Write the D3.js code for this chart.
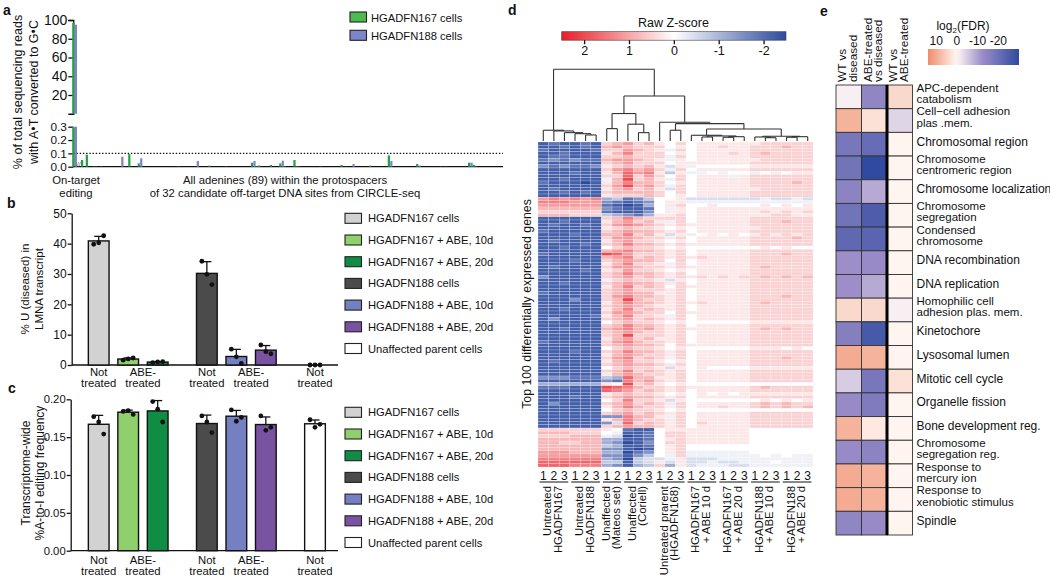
<!DOCTYPE html>
<html><head><meta charset="utf-8">
<script src="https://cdn.jsdelivr.net/npm/d3@7"></script>
<style>
body{margin:0;background:#fff;}
svg{display:block;font-family:"Liberation Sans",Arial,Helvetica,sans-serif;}
</style></head><body>
<svg id="chart" width="1050" height="580"></svg>
<script>
// ================= DATA =================
// ---- Panel a ----
const aSeries = ["HGADFN167 cells", "HGADFN188 cells"];
const aOnTarget = [97, 95];
const aGreen = [0.05,0.09,0,0.002,0.002,0,0,0,0,0, 0.095,0,0.025,0,0,0,0,0,0,0, 0.001,0,0,0,0,0,0,0.008,0,0, 0,0,0,0,0,0,0.03,0.004,0,0, 0.0125,0,0.025,0.003,0,0.05,0.002,0,0,0, 0,0,0,0,0,0.0125,0.002,0,0,0, 0,0.008,0,0,0,0.085,0,0,0,0, 0,0.02,0,0,0,0,0.002,0.002,0,0, 0,0,0.03,0.0125,0,0,0,0,0];
const aBlue  = [0,0,0.002,0,0,0,0,0,0.075,0, 0,0,0.0625,0,0,0,0,0,0,0, 0.002,0,0,0,0.043,0,0,0,0,0, 0.002,0,0,0,0,0,0.043,0.01,0,0, 0,0,0.045,0,0,0.003,0,0,0,0, 0.002,0,0,0,0,0,0,0.02,0,0, 0,0,0,0,0,0.043,0,0,0,0, 0,0.008,0,0,0,0,0,0,0,0, 0,0,0.03,0.003,0,0,0,0,0];
const aUpperTicks = [20, 40, 60, 80, 100];
const aLowerTicks = [0, 0.1, 0.2, 0.3];
const aThreshold = 0.1;

// ---- Panels b & c ----
const bcCategories = ["HGADFN167 cells","HGADFN167 + ABE, 10d","HGADFN167 + ABE, 20d","HGADFN188 cells","HGADFN188 + ABE, 10d","HGADFN188 + ABE, 20d","Unaffected parent cells"];
const bcGroupOf = [0,0,0,1,1,1,2];
const bcColors = ["#d2d2d2","#8fcf6c","#0f8d45","#4b4b4b","#7480c2","#7a52a2","#ffffff"];
const bReplicates = [[39.8,40.3,42.6],[1.6,2.0,2.3],[0.8,1.0,1.1],[34.2,29.9,26.5],[5.2,2.7,0.5],[6.6,4.4,3.7],[0,0,0]];
const cReplicates = [[0.177,0.170,0.154],[0.184,0.185,0.180],[0.197,0.187,0.170],[0.178,0.170,0.156],[0.186,0.171,0.176],[0.178,0.159,0.163],[0.173,0.163,0.167]];
const bTicks = [0,10,20,30,40,50];
const cTicks = [0,0.05,0.10,0.15,0.20];
const bcXLabels = [["Not","treated"],["ABE-","treated"],["Not","treated"],["ABE-","treated"],["Not","treated"]];
const bcXLabelBars = [[0],[1,2],[3],[4,5],[6]];

// ---- Panel d ----
const dGroups = [["Untreated","HGADFN167"],["Untreated","HGADFN188"],["Unaffected","(Mateos set)"],["Unaffected","(Coriell)"],["Untreated prarent","(HGADFN168)"],["HGADFN167","+ ABE 10 d"],["HGADFN167","+ ABE 20 d"],["HGADFN188","+ ABE 10 d"],["HGADFN188","+ ABE 20 d"]];
const dGroupSizes = [3,3,2,3,3,3,3,3,3];
const dScaleTicks = [2,1,0,-1,-2];
const dZKey = {a:-2.5,b:-2.2,c:-1.9,d:-1.5,e:-1.1,f:-0.75,g:-0.45,h:-0.2,"0":0,"1":0.25,"2":0.5,"3":0.8,"4":1.1,"5":1.4,"6":1.7,"7":2.0,"8":2.3};
const dRows = [
"bcbbcb 23 423 102 011111 122222","bbcbcb 34 322 201 011211 222322","cbbbbc 22 432 1h2 011111 222222","bbcbbb 13 522 201 011121 232222",
"bccbbb 22 322 2h2 011111 222222","cdcdcc 34 432 1h1 011111 122222","bbbbbb 23 422 201 111111 222222","dcdccd 12 323 1g1 h00000 111111",
"bbbbbb 24 534 2h2 011111 222222","bbbcbb 13 645 1f1 hh0h00 h0h011","bbbbbb 22 624 202 0111h1 222222","bbcbbb h3 723 1h2 011111 222222",
"cbbbab 13 533 201 011111 222232","bbbbbb 24 734 2h2 011111 222222","bcbbbb 13 423 1g2 011111 122222","bbcbcb 23 333 202 011111 222222",
"bbbbbb 12 223 201 011111 222222","454545 ef cdf 001 gggggg ghgghg","555444 dc bcd 011 hhhhhh hhhhhh","444444 cb abe 012 001000 010101",
"333333 dc bbc 0h1 011111 111111","222222 cb bbd 011 011111 121212","333222 fe dce 112 011111 112211","bbbbbb 23 532 222 011111 222222",
"bbcbbb 13 423 1h2 011111 222322","bcbbcb 24 543 212 111111 222222","bbbbbb 12 322 101 011111 122222","cbbbbb 23 433 212 011111 222222",
"bbbcbb 33 523 1g1 h01010 121212","bbbbbb 24 432 212 011111 222232","bcbbbb 13 422 101 011111 222222","bbbbcb 23 533 212 111111 222222",
"bbcbbb 02 322 101 000000 010100","bbbbbb 34 533 212 011111 222222","cbbbbb 76 422 212 011111 222322","bbbbbb 34 523 212 121111 222222",
"bbbcbb 23 433 202 011111 222222","bbbbbb 13 522 1h2 011111 222222","bcbbbb 24 432 212 111111 232222","bbbbcb 12 422 101 011111 222222",
"bbbbbb 23 533 212 011111 222222","dbbbbb 23 423 212 121212 232323","bbbbbb h2 322 1g1 011111 222222","bbcbbb 23 433 212 011111 222222",
"bbbbbb 13 523 202 111111 222222","bbbbbb 23 422 212 011111 222222","cbbbbb 23 433 112 011111 222222","bbbbbb 24 533 212 011111 222322",
"bbbdbb 23 732 212 011111 222222","bbbbbb 13 533 212 121111 232222","bbbbbb 23 432 112 011111 222222","bbcbbb 13 523 212 011111 222222",
"bbbbbb 24 432 202 111111 222222","bbbbbc 13 522 1h2 011111 222222","bdbbbb 23 423 212 011111 222222","bbbbbb 02 322 101 000000 111111",
"bbbbbb 23 533 212 011111 222222","bbcbbb 34 534 212 111111 232322","bbbbbb 23 432 212 011111 222222","bbbbbb 23 722 212 011111 222222",
"bbbbbb 13 423 112 011111 222222","cbbbbb 24 532 212 011111 222222","bbbbbb 23 433 202 111111 222222","bbbbbb 02 322 101 000000 111010",
"bbbcbb 23 533 212 011111 222222","bbbbbb 13 432 212 011111 222222","bbbbbb 24 523 2h2 011111 222322","bcbbbb 13 422 101 011111 222222",
"bbbbbb 23 433 212 011111 222222","bbbbbb 02 322 1g1 010000 111111","bbbbbb 23 523 212 011111 222222","bbbbbb 13 432 212 011111 222222",
"dddccc fe 633 112 011111 222222","bbbbbb dc 534 212 011111 222222","eeeeee 10 723 101 000000 000000","cccbbb 76 532 212 111111 232222",
"bbbbbb 65 423 212 011111 222222","bbbbbb 12 322 101 010101 111111","bbbcbb 23 433 212 011111 222222","bbbbbb 02 522 1g1 000000 010101",
"bdbbbb 23 423 212 011111 232322","bbbbbb 13 532 2h2 011211 232323","bbbbbb 02 322 101 000000 000000","bbbbbb 23 423 212 011111 222222",
"bbbbbb dd 533 1h2 011111 222222","bbbbbb 13 532 212 011111 222222","bbbbbb dg 623 212 021111 222222","bbbbbb 23 433 212 011111 222222",
"222222 10 cbb 011 111111 000000","333222 0h bbc 022 111111 000000","222333 hg abc 022 111111 000000","333333 ee bbc 012 111111 000000",
"332233 ed abd 022 111111 000000","333333 fe bbc 012 000000 000000","333333 dd bab 012 000000 000000","444333 ee acd 012 hhhhhh 000000",
"444444 dd bdf 0h2 hhhhhh h0h0hh","555555 ed afg gh1 ggghhh hhhhhh","666666 ff bfg 1g1 gghggh hh0hhh","666555 ed bef 2e1 ghhhgg hhhhhh"
];
// dendrogram: [height, left, right], leaves = column index
const dDendro = [71.3,
  [10.7, 0, [10, 1, [8.3, 2, [7.3, 3, [6, 4, 5]]]]],
  [44.7,
    [27.3, [12.3, 6, 7], [16.7, 8, [8.3, 9, 10]]],
    [18.7, 11,
      [17.3, [10.7, 12, 13],
        [12,
          [5.7, 14, [5, [4, 15, 16], [4.3, [3.7, 17, 18], 19]]],
          [4.7, [4, 20, [3.3, 21, 22]], [4.3, [3.7, 23, 24], 25]]
        ]
      ]
    ]
  ]
];

// ---- Panel e ----
const eColumns = [["WT vs","diseased"],["ABE-treated","vs diseased"],["WT vs","ABE-treated"]];
const eTerms = [["APC-dependent","catabolism"],["Cell\u2212cell adhesion","plas .mem."],["Chromosomal region"],["Chromosome","centromeric region"],["Chromosome localization"],["Chromosome","segregation"],["Condensed","chromosome"],["DNA recombination"],["DNA replication"],["Homophilic cell","adhesion plas. mem."],["Kinetochore"],["Lysosomal lumen"],["Mitotic cell cycle"],["Organelle fission"],["Bone development reg."],["Chromosome","segregation reg."],["Response to","mercury ion"],["Response to","xenobiotic stimulus"],["Spindle"]];
const eValues = [[-1,-14,4],[9,3,-4],[-18,-21,0.5],[-19,-30,0.5],[-15,-9,0.5],[-19,-25,0.5],[-22,-23,0.5],[-12,-13,0.5],[-12,-9,0.5],[4,4,-1],[-16,-26,0.5],[10,9,0.5],[-5,-18,3],[-13,-17,0.5],[9,2,0.5],[-13,-15,0.5],[10,9,0.5],[10,9,0.5],[-14,-13,0.5]];
const eScaleTicks = [10,0,-10,-20];

// ================= DRAWING =================
const svg = d3.select("#chart");
const INK = "#111";

function styleAxis(sel, fs) {
  sel.select(".domain").attr("stroke", INK).attr("stroke-width", 1.3);
  sel.selectAll(".tick line").attr("stroke", INK).attr("stroke-width", 1.3);
  sel.selectAll(".tick text").attr("fill", INK).attr("font-size", fs)
     .attr("font-family", "Liberation Sans, Arial, sans-serif");
}
function txt(g, x, y, s, fs, anchor, extra) {
  const t = g.append("text").attr("x", x).attr("y", y).text(s)
    .attr("font-size", fs).attr("fill", INK).attr("text-anchor", anchor || "start");
  if (extra) extra(t);
  return t;
}
function rotLines(g, cx, cy, lines, fs, gap, anchor) {
  lines.forEach((l, i) => {
    g.append("text").attr("transform", `translate(${cx + i * gap},${cy}) rotate(-90)`)
      .attr("text-anchor", anchor || "middle").attr("font-size", fs).attr("fill", INK).text(l);
  });
}
function panelLetter(x, y, s) {
  txt(svg, x, y, s, 14, "start", t => t.attr("font-weight", "bold"));
}

// ---------- Panel a ----------
{
  const g = svg.append("g");
  const aLeft = 73.3, aRight = 503;
  const yU = d3.scaleLinear().domain([0, 100]).range([113.75, 20]);
  const yL = d3.scaleLinear().domain([0, 0.3]).range([166.7, 126.7]).clamp(true);
  const xOff = d3.scaleBand().domain(d3.range(aGreen.length)).range([81, 501]);
  const xSer = d3.scaleBand().domain([0, 1]).range([0, xOff.bandwidth()]).paddingInner(0.1);
  const xOn = d3.scaleBand().domain([0, 1]).range([72.2, 77]).paddingInner(0.15);
  const aCols = ["#22a048", "#7c85ca"];

  g.append("g").attr("transform", `translate(${aLeft},0)`)
    .call(d3.axisLeft(yU).tickValues(aUpperTicks).tickSize(5).tickSizeOuter(5).tickPadding(1))
    .call(s => styleAxis(s, 14));
  g.append("g").attr("transform", `translate(${aLeft},0)`)
    .call(d3.axisLeft(yL).tickValues(aLowerTicks).tickFormat(d3.format(".1f")).tickSize(5).tickSizeOuter(0).tickPadding(1.5))
    .call(s => styleAxis(s, 11.8));
  g.append("line").attr("x1", aLeft).attr("x2", aRight).attr("y1", yL(0)).attr("y2", yL(0))
    .attr("stroke", INK).attr("stroke-width", 1.3);
  g.append("line").attr("x1", aLeft).attr("x2", aRight).attr("y1", yL(aThreshold)).attr("y2", yL(aThreshold))
    .attr("stroke", INK).attr("stroke-width", 1.2).attr("stroke-dasharray", "1.4,1.8");

  aOnTarget.forEach((v, i) => {
    g.append("rect").attr("x", xOn(i)).attr("width", xOn.bandwidth())
      .attr("y", yU(v)).attr("height", yU(0) - yU(v)).attr("fill", aCols[i]);
    g.append("rect").attr("x", xOn(i)).attr("width", xOn.bandwidth())
      .attr("y", yL(v)).attr("height", yL(0) - yL(v)).attr("fill", aCols[i]);
  });
  [aGreen, aBlue].forEach((arr, s) => {
    g.selectAll(null).data(arr).enter().append("rect")
      .attr("x", (d, i) => xOff(i) + xSer(s)).attr("width", xSer.bandwidth())
      .attr("y", d => yL(d)).attr("height", d => yL(0) - yL(d)).attr("fill", aCols[s]);
  });
  txt(g, 76.5, 166.5, "//", 7, "start", t => t.attr("fill", "#555").attr("font-style", "italic"));

  aSeries.forEach((s, i) => {
    g.append("rect").attr("x", 350).attr("y", 12 + i * 18.3).attr("width", 16.5).attr("height", 10)
      .attr("fill", i === 0 ? "#4cba4c" : "#7d86c9").attr("stroke", "#222").attr("stroke-width", 1.1);
    txt(g, 371, 21.5 + i * 18.3, s, 11.2);
  });
  rotLines(g, 21.5, 92, ["% of total sequencing reads", "with A\u2022T converted to G\u2022C"], 12.5, 16);
  txt(g, 76, 183.5, "On-target", 11.3, "middle");
  txt(g, 76, 196.5, "editing", 11.3, "middle");
  txt(g, 285, 183.5, "All adenines (89) within the protospacers", 11.3, "middle");
  txt(g, 285, 196.5, "of 32 candidate off-target DNA sites from CIRCLE-seq", 11.3, "middle");
}
panelLetter(3, 15, "a");

// ---------- Panels b & c ----------
function barPanel(cfg) {
  const g = svg.append("g");
  const y = d3.scaleLinear().domain([0, cfg.max]).range([cfg.y0, cfg.y1]);
  const pos = bcCategories.map((d, i) => i + bcGroupOf[i] * 0.667);
  const x = d3.scaleLinear().domain([0, 7.334]).range([98.7, 315]);
  const bw = 20.7, jitter = [-5, 0, 5];
  g.append("g").attr("transform", `translate(${cfg.axisX},0)`)
    .call(d3.axisLeft(y).tickValues(cfg.ticks).tickFormat(cfg.fmt).tickSize(4).tickSizeOuter(0).tickPadding(1))
    .call(s => styleAxis(s, cfg.tickFs));
  g.append("line").attr("x1", cfg.axisX).attr("x2", 338).attr("y1", y(0)).attr("y2", y(0))
    .attr("stroke", INK).attr("stroke-width", 1.3);
  cfg.reps.forEach((vals, i) => {
    const m = d3.mean(vals), sd = d3.deviation(vals) || 0, cx = x(pos[i]);
    g.append("line").attr("x1", cx).attr("x2", cx).attr("y1", y(m)).attr("y2", y(m + sd)).attr("stroke", INK).attr("stroke-width", 1.3);
    g.append("line").attr("x1", cx - 4.5).attr("x2", cx + 4.5).attr("y1", y(m + sd)).attr("y2", y(m + sd)).attr("stroke", INK).attr("stroke-width", 1.3);
    g.append("rect").attr("x", cx - bw / 2).attr("width", bw).attr("y", y(m)).attr("height", y(0) - y(m))
      .attr("fill", bcColors[i]).attr("stroke", INK).attr("stroke-width", 1.4);
    vals.forEach((v, j) => g.append("circle").attr("cx", cx + jitter[j]).attr("cy", y(v)).attr("r", 2.4).attr("fill", INK));
  });
  bcXLabels.forEach((lines, k) => {
    const cx = d3.mean(bcXLabelBars[k], b => x(pos[b]));
    lines.forEach((l, li) => txt(g, cx, cfg.labelY + li * 11.2, l, 11.3, "middle"));
  });
  bcCategories.forEach((c, i) => {
    const cy = cfg.legendY + i * 21.7;
    g.append("rect").attr("x", 345).attr("y", cy - 5).attr("width", 16.5).attr("height", 10)
      .attr("fill", bcColors[i]).attr("stroke", "#222").attr("stroke-width", 1.1);
    txt(g, 368, cy + 4, c, 11.2);
  });
  rotLines(g, cfg.titleX, cfg.titleY, cfg.title, cfg.titleFs, cfg.titleGap);
}
barPanel({ max: 50, y0: 365, y1: 213.3, axisX: 71.7, ticks: bTicks, fmt: d3.format("d"), reps: bReplicates, tickFs: 12,
  labelY: 376, legendY: 218.3, title: ["% U (diseased) in", "LMNA transcript"], titleX: 29, titleY: 289, titleFs: 11.5, titleGap: 14 });
panelLetter(7, 208, "b");
barPanel({ max: 0.2, y0: 550.7, y1: 399.3, axisX: 70.7, ticks: cTicks, fmt: d3.format(".2f"), reps: cReplicates, tickFs: 11.3,
  labelY: 563.5, legendY: 412.3, title: ["Transcriptome-wide", "%A-to-I editing frequency"], titleX: 29.5, titleY: 473, titleFs: 12, titleGap: 14.5 });
panelLetter(8, 393, "c");

// ---------- Panel d ----------
{
  const g = svg.append("g");
  const nCol = dGroupSizes.reduce((a, b) => a + b, 0);
  const x = d3.scaleBand().domain(d3.range(nCol)).range([538, 813]);
  const y = d3.scaleBand().domain(d3.range(dRows.length)).range([142, 467]);
  const zColor = d3.scaleLinear().domain([-2.5, 0, 2.5]).range(["#2c4a9e", "#ffffff", "#ea1d25"]).clamp(true);
  const cells = [];
  dRows.forEach((r, ri) => r.replace(/ /g, "").split("").forEach((ch, ci) => cells.push({ r: ri, c: ci, z: dZKey[ch] })));
  g.selectAll(null).data(cells).enter().append("rect")
    .attr("x", d => x(d.c)).attr("y", d => y(d.r)).attr("width", x.bandwidth()).attr("height", y.bandwidth())
    .attr("fill", d => zColor(d.z)).attr("stroke", "#fff").attr("stroke-width", 0.3).attr("stroke-opacity", 0.6);

  const hY = d3.scaleLinear().domain([0, 71.3]).range([141, 69.3]);
  const dg = g.append("g").attr("stroke", "#333").attr("stroke-width", 1.1).attr("fill", "none");
  function lay(node) {
    if (typeof node === "number") return { x: x(node) + x.bandwidth() / 2, h: 0 };
    const [h, L, R] = node;
    const a = lay(L), b = lay(R);
    [a, b].forEach(ch => dg.append("line").attr("x1", ch.x).attr("x2", ch.x).attr("y1", hY(ch.h)).attr("y2", hY(h)));
    dg.append("line").attr("x1", a.x).attr("x2", b.x).attr("y1", hY(h)).attr("y2", hY(h));
    return { x: (a.x + b.x) / 2, h: h };
  }
  lay(dDendro);

  const zx = d3.scaleLinear().domain([2.5, -2.5]).range([561.7, 786]);
  const grad = svg.append("defs").append("linearGradient").attr("id", "zgrad");
  d3.range(0, 1.001, 0.05).forEach(t => grad.append("stop").attr("offset", t).attr("stop-color", zColor(2.5 - 5 * t)));
  g.append("rect").attr("x", 561.7).attr("y", 31.7).attr("width", 786 - 561.7).attr("height", 8.5)
    .attr("fill", "url(#zgrad)").attr("stroke", "#444").attr("stroke-width", 0.6);
  g.append("g").attr("transform", "translate(0,40.2)")
    .call(d3.axisBottom(zx).tickValues(dScaleTicks).tickFormat(d => String(d)).tickSize(4).tickPadding(2))
    .call(s => { styleAxis(s, 12.5); s.select(".domain").remove(); });
  txt(g, 673.5, 26.5, "Raw Z-score", 12.5, "middle");

  let start = 0;
  dGroups.forEach((lab, gi) => {
    const n = dGroupSizes[gi];
    const x0 = x(start), x1 = x(start + n - 1) + x.bandwidth();
    for (let k = 0; k < n; k++) txt(g, x(start + k) + x.bandwidth() / 2, 479.5, String(k + 1), 12, "middle");
    g.append("line").attr("x1", x0 + 1.5).attr("x2", x1 - 1.5).attr("y1", 482).attr("y2", 482).attr("stroke", INK).attr("stroke-width", 1);
    const cx = (x0 + x1) / 2;
    lab.forEach((l, li) => g.append("text").attr("transform", `translate(${cx - 2.5 + li * 10.5},486) rotate(-90)`)
      .attr("text-anchor", "end").attr("font-size", 11.4).attr("fill", INK).text(l));
    start += n;
  });
  rotLines(g, 531, 304, ["Top 100 differentially expressed genes"], 12.3, 0);
}
panelLetter(508, 15, "d");

// ---------- Panel e ----------
{
  const g = svg.append("g");
  const x = d3.scaleBand().domain(d3.range(eColumns.length)).range([836, 912.5]);
  const y = d3.scaleBand().domain(d3.range(eTerms.length)).range([85, 535]);
  const eColor = d3.scaleLinear().domain([15, 0, -12, -30]).range(["#ee8560", "#fff8f5", "#9d8ec9", "#2f4aa0"]).clamp(true);
  eValues.forEach((row, ri) => row.forEach((v, ci) => {
    g.append("rect").attr("x", x(ci)).attr("y", y(ri)).attr("width", x.bandwidth()).attr("height", y.bandwidth())
      .attr("fill", eColor(v)).attr("stroke", "#333").attr("stroke-width", 0.9);
  }));
  g.append("line").attr("x1", x(2)).attr("x2", x(2)).attr("y1", 85).attr("y2", 535).attr("stroke", "#000").attr("stroke-width", 3);
  eColumns.forEach((lines, ci) => {
    const cx = x(ci) + x.bandwidth() / 2;
    lines.forEach((l, li) => g.append("text").attr("transform", `translate(${cx - 2.5 + li * 10.5},82) rotate(-90)`)
      .attr("text-anchor", "start").attr("font-size", 11.8).attr("fill", INK).text(l));
  });
  eTerms.forEach((lines, ri) => {
    const cy = y(ri) + y.bandwidth() / 2;
    if (lines.length === 1) txt(g, 916.5, cy + 1.5, lines[0], 12);
    else lines.forEach((l, li) => txt(g, 916.5, cy - 5.2 + li * 11.4, l, 11.5));
  });
  const lx = d3.scaleLinear().domain([14, -30]).range([928, 1019]);
  const grad = svg.append("defs").append("linearGradient").attr("id", "egrad");
  d3.range(0, 1.001, 0.05).forEach(t => grad.append("stop").attr("offset", t).attr("stop-color", eColor(14 - 44 * t)));
  g.append("rect").attr("x", 928).attr("y", 49).attr("width", 91).attr("height", 16).attr("fill", "url(#egrad)");
  eScaleTicks.forEach(v => txt(g, lx(v), 45, String(v), 12, "middle"));
  const t = txt(g, 963, 30, "log", 12, "middle");
  t.append("tspan").attr("font-size", 8).attr("dy", 3).text("2");
  t.append("tspan").attr("dy", -3).text("(FDR)");
}
panelLetter(820, 16, "e");
</script>
</body></html>
